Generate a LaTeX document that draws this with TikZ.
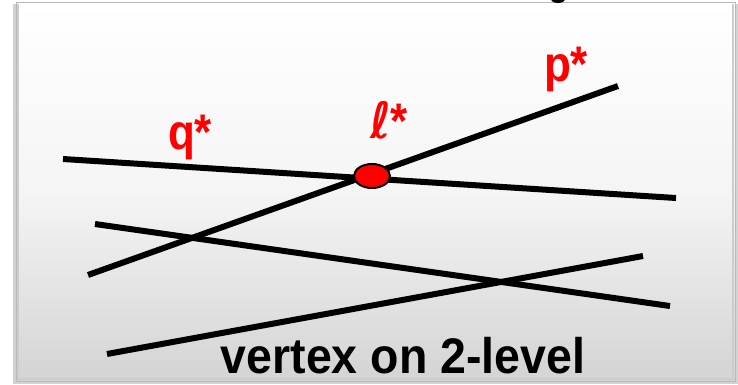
\documentclass[tikz,border=0pt]{standalone}
\usepackage{fontspec}
\setmainfont{Liberation Sans}
\newfontfamily\dvfont{DejaVu Sans}
\usetikzlibrary{shapes.geometric}
\begin{document}
\begin{tikzpicture}[x=1pt,y=-1pt,
  seg/.style={line width=6pt},
  lbl/.style={text=red,font=\bfseries\fontsize{50}{50}\selectfont,inner sep=0pt,anchor=base,xscale=0.88,transform shape},
  captext/.style={font=\bfseries\fontsize{50}{50}\selectfont,inner sep=0pt,anchor=base,xscale=0.93,transform shape}]
\useasboundingbox (0,0) rectangle (738,384);
\fill[white] (0,0) rectangle (738,384);
% shadow
\fill[gray!35] (13,4) rectangle (738,384);
% panel
\shade[top color=white,bottom color=white!83!black,middle color=white!96!black] (16,2) rectangle (735,381);
\draw[gray!55,line width=1pt] (16,2) rectangle (735,381);
\draw[gray!40,line width=1.5pt] (18,4) -- (18,379) -- (733,379) -- (733,4);
% cut-off glyph at top
\fill[black] (558,-1) ellipse [x radius=7pt,y radius=4pt];
% lines
\coordinate (q1) at (63,159);
\coordinate (q2) at (676,198);
\coordinate (p1) at (88,275);
\coordinate (p2) at (618,86);
\coordinate (a1) at (95,224);
\coordinate (a2) at (670,306);
\coordinate (b1) at (107,354);
\coordinate (b2) at (643,256);
\draw[seg] (q1) -- (q2);
\draw[seg] (p1) -- (p2);
\draw[seg] (a1) -- (a2);
\draw[seg] (b1) -- (b2);
\node[ellipse,draw=black,line width=2pt,fill=red,minimum width=36pt,minimum height=24pt,inner sep=0pt] (v) at (372,176) {};
\node[lbl] (ql) at (190,149) {q*};
\node[lbl] (pl) at (566,81) {p*};
\node[lbl] (ll) at (389,138) {{\dvfont\itshape ℓ}*};
\node[captext] (t) at (403,373) {vertex on 2-level};
\end{tikzpicture}
\end{document}
